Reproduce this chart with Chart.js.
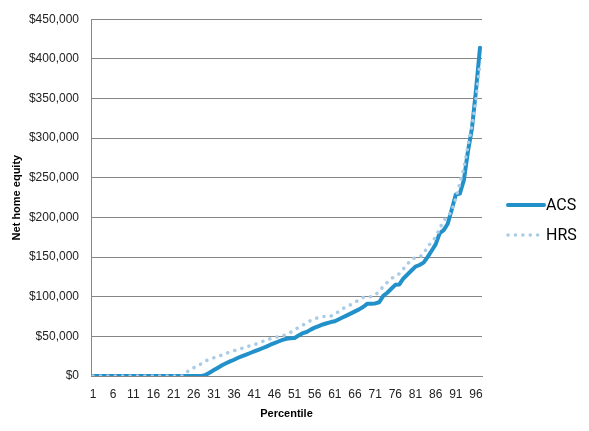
<!DOCTYPE html>
<html>
<head>
<meta charset="utf-8">
<script src="https://cdn.jsdelivr.net/npm/chart.js@4/dist/chart.umd.min.js"></script>
<style>
  html, body { margin: 0; padding: 0; background: #fff; }
  canvas { display: block; }
</style>
</head>
<body>
<canvas id="equity_chart" width="589" height="431"></canvas>
<script>
// Data

const percentiles = [1, 2, 3, 4, 5, 6, 7, 8, 9, 10, 11, 12, 13, 14, 15, 16, 17, 18, 19, 20,
    21, 22, 23, 24, 25, 26, 27, 28, 29, 30, 31, 32, 33, 34, 35, 36, 37, 38, 39, 40,
    41, 42, 43, 44, 45, 46, 47, 48, 49, 50, 51, 52, 53, 54, 55, 56, 57, 58, 59, 60,
    61, 62, 63, 64, 65, 66, 67, 68, 69, 70, 71, 72, 73, 74, 75, 76, 77, 78, 79, 80,
    81, 82, 83, 84, 85, 86, 87, 88, 89, 90, 91, 92, 93, 94, 95, 96, 97];

const acs_values = [0, 0, 0, 0, 0, 0, 0, 0, 0, 0, 0, 0, 0, 0, 0, 0, 0, 0, 0, 0,
    0, 0, 0, 0, 0, 0, 0, 0, 1500, 4500, 7500, 10500, 13500, 16000, 18500, 20500, 23000, 25000, 27000, 29000,
    31000, 33000, 35000, 37000, 39500, 41500, 43500, 45500, 47000, 47500, 48000, 51000, 54000, 55500, 58500, 61000, 63000, 65000, 66500, 68000,
    69000, 71500, 74000, 76500, 79000, 81500, 84000, 87000, 91000, 91000, 91500, 93000, 101000, 105000, 110000, 115000, 115500, 123000, 128000, 133000,
    138000, 140000, 143000, 150000, 158000, 166000, 180000, 184000, 192000, 210000, 229000, 230000, 247000, 283000, 312000, 360000, 414000];

const hrs_values = [0, 0, 0, 0, 0, 0, 0, 0, 0, 0, 0, 0, 0, 0, 0, 0, 0, 0, 0, 0,
    0, 0, 0, 4000, 7500, 10500, 12500, 16000, 19000, 21500, 23000, 24500, 26500, 28500, 30500, 32000, 33500, 35000, 37000, 38000,
    39500, 41500, 43500, 45000, 47000, 48500, 49500, 50500, 52500, 55000, 58000, 61500, 64000, 67000, 70000, 72000, 74000, 75000, 75000, 75500,
    79000, 81000, 85000, 88000, 90000, 93000, 96000, 99000, 100000, 100000, 102000, 107000, 113000, 118000, 123000, 126000, 129000, 135000, 141000, 147500,
    149000, 150000, 154000, 163000, 169000, 175000, 186000, 196000, 201000, 208000, 224000, 243000, 262000, 290000, 315000, 348000, 395000];

const x_tick_labels = ['1', '6', '11', '16', '21', '26', '31', '36', '41', '46', '51', '56', '61', '66', '71', '76', '81', '86', '91', '96'];

const y_min = 0;
const y_max = 450000;
const y_step = 50000;

// Legend drawn at the right, like the original

const side_legend = {
    id: 'side_legend',
    afterDraw(chart) {
        const ctx = chart.ctx;
        const area = chart.chartArea;
        const x0 = area.right + 26;
        const x1 = area.right + 62;
        let y = 205;
        chart.data.datasets.forEach((ds) => {
            ctx.save();
            ctx.strokeStyle = ds.borderColor;
            ctx.lineWidth = ds.borderWidth;
            ctx.lineCap = 'round';
            ctx.setLineDash(ds.borderDash || []);
            ctx.beginPath();
            ctx.moveTo(x0, y);
            ctx.lineTo(x1, y);
            ctx.stroke();
            ctx.restore();

            ctx.save();
            ctx.fillStyle = '#000';
            ctx.font = '16px Roboto';
            ctx.textBaseline = 'middle';
            ctx.textAlign = 'left';
            ctx.fillText(ds.label, x1 + 2, y + 1);
            ctx.restore();
            y += 30;
        });
    }
};

// Chart

const grid_color = '#868686';
const tick_font = { family: 'Liberation Sans', size: 12 };
const title_font = { family: 'Liberation Sans', size: 11, weight: 'bold' };

const equity_chart = new Chart(document.getElementById('equity_chart'), {
    type: 'line',
    data: {
        labels: percentiles,
        datasets: [{
            label: 'ACS',
            data: acs_values,
            borderColor: '#2391c9',
            borderWidth: 4,
            borderCapStyle: 'round',
            borderJoinStyle: 'round',
            pointRadius: 0,
            tension: 0,
            order: 1
        }, {
            label: 'HRS',
            data: hrs_values,
            borderColor: '#a9cce6',
            borderWidth: 3.5,
            borderDash: [0.1, 7.3],
            borderCapStyle: 'round',
            pointRadius: 0,
            tension: 0,
            order: 0
        }]
    },
    options: {
        responsive: false,
        animation: false,
        layout: {
            padding: { left: 0, right: 107, top: 17, bottom: 0 }
        },
        plugins: {
            legend: { display: false },
            tooltip: { enabled: false }
        },
        scales: {
            x: {
                type: 'category',
                offset: true,
                grid: { display: false, drawTicks: false },
                border: { display: true, color: grid_color, width: 1 },
                ticks: {
                    autoSkip: false,
                    maxRotation: 0,
                    padding: 11,
                    color: '#222',
                    font: tick_font,
                    callback: function (value, index) {
                        return index % 5 === 0 ? x_tick_labels[index / 5] : null;
                    }
                },
                title: {
                    display: true,
                    text: 'Percentile',
                    color: '#000',
                    font: title_font,
                    padding: { top: 0, bottom: 10 }
                },
                afterFit: function (scale) {
                    scale.height = 55;
                }
            },
            y: {
                min: y_min,
                max: y_max,
                grid: { color: grid_color, lineWidth: 1, drawTicks: false },
                border: { display: true, color: grid_color, width: 1 },
                ticks: {
                    stepSize: y_step,
                    padding: 12,
                    color: '#222',
                    font: tick_font,
                    callback: function (value) {
                        return '$' + value.toLocaleString('en-US');
                    }
                },
                title: {
                    display: true,
                    text: 'Net home equity',
                    color: '#000',
                    font: title_font,
                    padding: { top: 10, bottom: 0 }
                },
                afterFit: function (scale) {
                    scale.width = 91;
                }
            }
        }
    },
    plugins: [side_legend]
});
</script>
</body>
</html>
